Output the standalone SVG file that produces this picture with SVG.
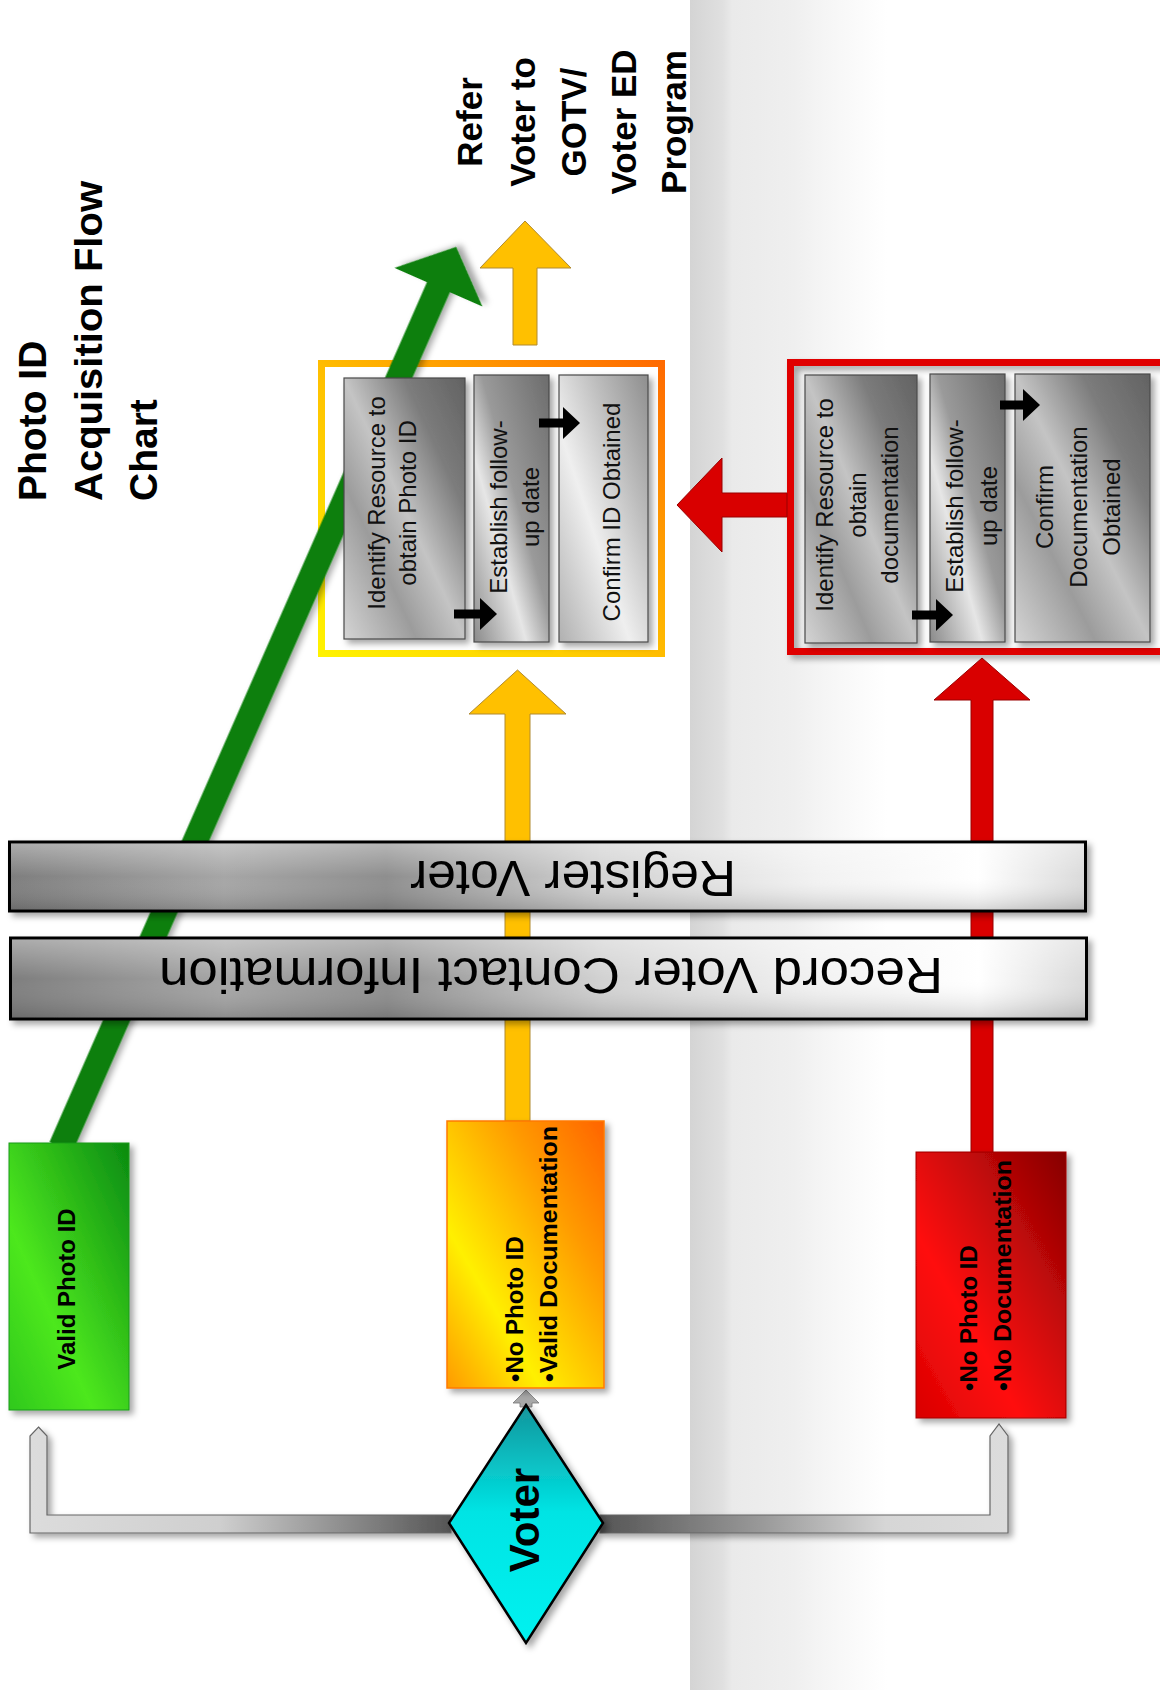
<svg xmlns="http://www.w3.org/2000/svg" width="1160" height="1690" viewBox="0 0 1160 1690">
<defs>
<style>
text{font-family:"Liberation Sans",Arial,sans-serif;fill:#000}
.t{font-size:39px;font-weight:bold}
.r{font-size:35px;font-weight:bold}
.b{font-size:24px;fill:#111}
.bar{font-size:50px}
.c{font-size:24px;font-weight:bold}
.v{font-size:42px;font-weight:bold}
.mid{text-anchor:middle}
.box{stroke:#4a4a4a;stroke-width:1.2;filter:url(#sh)}
.blk{fill:#000}
</style>
<filter id="sh" x="-10%" y="-10%" width="130%" height="130%">
<feDropShadow dx="4" dy="4" stdDeviation="3" flood-color="#000" flood-opacity="0.35"/>
</filter>
<linearGradient id="band" x1="0" y1="0" x2="1" y2="0">
<stop offset="0" stop-color="#d4d4d4"/><stop offset="0.07" stop-color="#e0e0e0"/><stop offset="0.09" stop-color="#eaeaea"/><stop offset="0.22" stop-color="#efefef"/><stop offset="0.32" stop-color="#f8f8f8"/><stop offset="0.42" stop-color="#ffffff"/><stop offset="1" stop-color="#ffffff"/>
</linearGradient>
<linearGradient id="yframe" x1="0" y1="1" x2="1" y2="0">
<stop offset="0" stop-color="#fff200"/><stop offset="0.45" stop-color="#ffc400"/><stop offset="1" stop-color="#ff6a00"/>
</linearGradient>
<linearGradient id="mA" x1="0" y1="1" x2="1" y2="0">
<stop offset="0" stop-color="#d4d4d4"/><stop offset="0.3" stop-color="#9c9c9c"/><stop offset="0.5" stop-color="#c4c4c4"/><stop offset="0.75" stop-color="#7c7c7c"/><stop offset="1" stop-color="#626262"/>
</linearGradient>
<linearGradient id="mB" x1="0" y1="1" x2="1" y2="0">
<stop offset="0" stop-color="#8a8a8a"/><stop offset="0.35" stop-color="#e6e6e6"/><stop offset="0.55" stop-color="#9a9a9a"/><stop offset="1" stop-color="#6c6c6c"/>
</linearGradient>
<linearGradient id="mC" x1="0" y1="1" x2="1" y2="0">
<stop offset="0" stop-color="#b0b0b0"/><stop offset="0.4" stop-color="#efefef"/><stop offset="0.7" stop-color="#bdbdbd"/><stop offset="1" stop-color="#8e8e8e"/>
</linearGradient>
<linearGradient id="barg" x1="0" y1="0" x2="1" y2="0">
<stop offset="0" stop-color="#7e7e7e"/><stop offset="0.2" stop-color="#a6a6a6"/><stop offset="0.35" stop-color="#8e8e8e"/><stop offset="0.55" stop-color="#d2d2d2"/><stop offset="0.75" stop-color="#f2f2f2"/><stop offset="0.9" stop-color="#ffffff"/><stop offset="1" stop-color="#dadada"/>
</linearGradient>
<linearGradient id="barv" x1="0" y1="0" x2="0" y2="1">
<stop offset="0" stop-color="#fff" stop-opacity="0.35"/><stop offset="0.5" stop-color="#fff" stop-opacity="0"/><stop offset="1" stop-color="#000" stop-opacity="0.15"/>
</linearGradient>
<linearGradient id="greenbox" x1="0" y1="1" x2="1" y2="0">
<stop offset="0" stop-color="#2fc81a"/><stop offset="0.35" stop-color="#4de81f"/><stop offset="1" stop-color="#0a8a10"/>
</linearGradient>
<linearGradient id="orangebox" x1="0" y1="1" x2="1" y2="0">
<stop offset="0" stop-color="#ff9a00"/><stop offset="0.3" stop-color="#fff000"/><stop offset="0.7" stop-color="#ff9a00"/><stop offset="1" stop-color="#ff6400"/>
</linearGradient>
<linearGradient id="redbox" x1="0" y1="1" x2="1" y2="0">
<stop offset="0" stop-color="#d80000"/><stop offset="0.35" stop-color="#ff1010"/><stop offset="1" stop-color="#850000"/>
</linearGradient>
<linearGradient id="diam" x1="0" y1="0" x2="0" y2="1">
<stop offset="0" stop-color="#14959c"/><stop offset="0.45" stop-color="#00e4e4"/><stop offset="1" stop-color="#00f2f0"/>
</linearGradient>
<linearGradient id="gl" gradientUnits="userSpaceOnUse" x1="30" y1="0" x2="451" y2="0">
<stop offset="0" stop-color="#dcdcdc"/><stop offset="0.45" stop-color="#cfcfcf"/><stop offset="1" stop-color="#555"/>
</linearGradient>
<linearGradient id="gr" gradientUnits="userSpaceOnUse" x1="600" y1="0" x2="1008" y2="0">
<stop offset="0" stop-color="#555"/><stop offset="0.4" stop-color="#9a9a9a"/><stop offset="0.7" stop-color="#d6d6d6"/><stop offset="1" stop-color="#dcdcdc"/>
</linearGradient>
</defs>

<rect x="690" y="0" width="470" height="1690" fill="url(#band)"/>

<g id="title">
<text class="t" transform="translate(46,501) rotate(-90)">Photo ID</text>
<text class="t" transform="translate(102,501) rotate(-90)" textLength="320" lengthAdjust="spacingAndGlyphs">Acquisition Flow</text>
<text class="t" transform="translate(157,501) rotate(-90)">Chart</text>
</g>

<g id="refer-program">
<text class="r mid" transform="translate(482,122) rotate(-90)">Refer</text>
<text class="r mid" transform="translate(535,122) rotate(-90)">Voter to</text>
<text class="r mid" transform="translate(586,122) rotate(-90)">GOTV/</text>
<text class="r mid" transform="translate(636,122) rotate(-90)">Voter ED</text>
<text class="r mid" transform="translate(686,122) rotate(-90)">Program</text>
</g>

<g id="frame-photo-id">
<rect x="321.5" y="363.5" width="340" height="290" fill="none" stroke="url(#yframe)" stroke-width="7"/>
</g>
<g id="frame-documentation">
<rect x="790.5" y="362.5" width="385" height="289" fill="none" stroke="#e00000" stroke-width="7" filter="url(#sh)"/>
</g>

<g id="connectors">
<g transform="translate(61,1147) rotate(-66.3)">
<path d="M0,-12.5 H939 V-48 L983,0 L939,48 V12.5 H0 Z" fill="#0b7f0b" filter="url(#sh)"/>
</g>
<path d="M513,345 V268 H480 L525,221 L571,268 H537 V345 Z" fill="#ffc000" stroke="#b08a30" stroke-width="1"/>
<path d="M505,1121 V714 H469 L517.5,670 L566,714 H530 V1121 Z" fill="#ffc000" stroke="#b08a30" stroke-width="1"/>
<path d="M971,1153 V700 H934 L982,658 L1030,700 H993 V1153 Z" fill="#d90000" stroke="#900" stroke-width="1"/>
<path d="M787,493 H722 V458 L677,505 L722,552 V517 H787 Z" fill="#d90000" stroke="#900" stroke-width="1"/>
<path d="M38.5,1427 L47,1436 V1515 H451 V1533 H30 V1436 Z" fill="url(#gl)" stroke="#666" stroke-width="1.2" filter="url(#sh)"/>
<path d="M600,1515 H990 V1436 L999,1424 L1008,1436 V1533 H600 Z" fill="url(#gr)" stroke="#666" stroke-width="1.2" filter="url(#sh)"/>
<path d="M526,1390 L539,1403 H532 V1407 H520 V1403 H513 Z" fill="#a8a8a8" stroke="#777" stroke-width="0.8"/>
</g>

<g id="step-identify-photo">
<rect class="box" x="344" y="378" width="121" height="261" fill="url(#mA)"/>
<text class="b mid" transform="translate(385,503) rotate(-90)">Identify Resource to</text>
<text class="b mid" transform="translate(416,503) rotate(-90)">obtain Photo ID</text>
</g>
<g id="step-followup-photo">
<rect class="box" x="474" y="375" width="75" height="267" fill="url(#mB)"/>
<text class="b mid" transform="translate(507,507) rotate(-90)">Establish follow-</text>
<text class="b mid" transform="translate(539,507) rotate(-90)">up date</text>
</g>
<g id="step-confirm-photo">
<rect class="box" x="559" y="375" width="89" height="267" fill="url(#mC)"/>
<text class="b mid" transform="translate(620,512) rotate(-90)">Confirm ID Obtained</text>
</g>

<g id="step-identify-doc">
<rect class="box" x="805" y="375" width="112" height="268" fill="url(#mA)"/>
<text class="b mid" transform="translate(833,505) rotate(-90)">Identify Resource to</text>
<text class="b mid" transform="translate(866,505) rotate(-90)">obtain</text>
<text class="b mid" transform="translate(898,505) rotate(-90)">documentation</text>
</g>
<g id="step-followup-doc">
<rect class="box" x="930" y="374" width="75" height="268" fill="url(#mB)"/>
<text class="b mid" transform="translate(963,506) rotate(-90)">Establish follow-</text>
<text class="b mid" transform="translate(997,506) rotate(-90)">up date</text>
</g>
<g id="step-confirm-doc">
<rect class="box" x="1015" y="374" width="135" height="268" fill="url(#mA)"/>
<text class="b mid" transform="translate(1053,507) rotate(-90)">Confirm</text>
<text class="b mid" transform="translate(1087,507) rotate(-90)">Documentation</text>
<text class="b mid" transform="translate(1120,507) rotate(-90)">Obtained</text>
</g>

<g id="connectors-steps">
<path class="blk" d="M454,609.5 H480 V598 L497,614 L480,630 V618.5 H454 Z"/>
<path class="blk" d="M539,418.5 H563 V407 L580,423 L563,439 V427.5 H539 Z"/>
<path class="blk" d="M912,610.5 H936 V599 L953,615 L936,631 V619.5 H912 Z"/>
<path class="blk" d="M1000,400.5 H1023 V389 L1040,405 L1023,421 V409.5 H1000 Z"/>
</g>

<g id="register-voter">
<rect x="9.5" y="842" width="1076" height="69" fill="url(#barg)" stroke="#000" stroke-width="3" filter="url(#sh)"/>
<rect x="11" y="843.5" width="1073" height="66" fill="url(#barv)"/>
<text class="bar mid" transform="translate(573,861) rotate(180)" textLength="326" lengthAdjust="spacingAndGlyphs">Register Voter</text>
</g>
<g id="record-contact">
<rect x="10.5" y="938" width="1076" height="81" fill="url(#barg)" stroke="#000" stroke-width="3" filter="url(#sh)"/>
<rect x="12" y="939.5" width="1073" height="78" fill="url(#barv)"/>
<text class="bar mid" transform="translate(551,958) rotate(180)" textLength="784" lengthAdjust="spacingAndGlyphs">Record Voter Contact Information</text>
</g>

<g id="valid-photo-id">
<rect x="9" y="1143" width="120" height="267" fill="url(#greenbox)" stroke="#1a9a1a" stroke-width="1" filter="url(#sh)"/>
<text class="c mid" transform="translate(75,1289) rotate(-90)">Valid Photo ID</text>
</g>
<g id="no-photo-valid-doc">
<rect x="447" y="1121" width="157" height="267" fill="url(#orangebox)" stroke="#ff7a00" stroke-width="1.5" filter="url(#sh)"/>
<text class="c" transform="translate(523,1382) rotate(-90)">•No Photo ID</text>
<text class="c" transform="translate(557,1382) rotate(-90)" textLength="256" lengthAdjust="spacingAndGlyphs">•Valid Documentation</text>
</g>
<g id="no-photo-no-doc">
<rect x="916" y="1152" width="150" height="266" fill="url(#redbox)" stroke="#a00000" stroke-width="1" filter="url(#sh)"/>
<text class="c" transform="translate(977,1391) rotate(-90)">•No Photo ID</text>
<text class="c" transform="translate(1011,1391) rotate(-90)" textLength="231" lengthAdjust="spacingAndGlyphs">•No Documentation</text>
</g>

<g id="voter">
<polygon points="526,1405 603,1523 526,1643 449,1523" fill="url(#diam)" stroke="#000" stroke-width="2.5" filter="url(#sh)"/>
<text class="v mid" transform="translate(539,1520) rotate(-90)">Voter</text>
</g>
</svg>
